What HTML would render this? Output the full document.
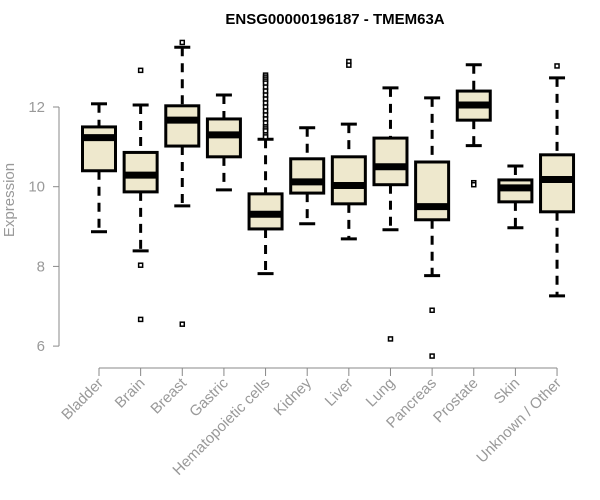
<!DOCTYPE html>
<html><head><meta charset="utf-8"><style>
body{margin:0;background:#fff;}
svg{display:block;font-family:"Liberation Sans",Arial,sans-serif;}
</style></head><body>
<svg id="chart" width="600" height="500">
<text x="335" y="24" text-anchor="middle" font-size="15" font-weight="bold">ENSG00000196187 - TMEM63A</text>
<text transform="translate(14,200) rotate(-90)" text-anchor="middle" font-size="15" fill="#999">Expression</text>
<g id="yaxis"></g>
<g id="xaxis"></g>
<g id="boxes"></g>
</svg>
<script>
const categories=["Bladder","Brain","Breast","Gastric","Hematopoietic cells","Kidney","Liver","Lung","Pancreas","Prostate","Skin","Unknown / Other"];
const whiskerLow=[8.87,8.39,9.52,9.92,7.82,9.07,8.69,8.92,7.77,11.03,8.97,7.26];
const q1=[10.40,9.87,11.02,10.75,8.94,9.84,9.57,10.05,9.17,11.67,9.62,9.37];
const medians=[11.23,10.29,11.67,11.30,9.31,10.12,10.03,10.50,9.50,12.05,9.97,10.18];
const q3=[11.50,10.86,12.03,11.70,9.82,10.70,10.75,11.22,10.62,12.40,10.17,10.80];
const whiskerHigh=[12.08,12.05,13.50,12.30,11.19,11.48,11.57,12.48,12.23,13.06,10.52,12.73];
const outliers=[[],[12.92,8.03,6.67],[13.62,6.55],[],[12.8,12.75,12.7,12.65,12.6,12.5,12.4,12.3,12.2,12.1,12.0,11.9,11.8,11.7,11.6,11.5,11.45,11.4,11.3,11.25],[],[13.14,13.05],[6.18],[6.90,5.75],[10.10,10.05],[],[13.03]];
const yTicks=[6,8,10,12];

const NS="http://www.w3.org/2000/svg";
const y=v=>107+(12-v)*39.85;
const x=i=>99+i*41.64;
function mk(parent,tag,attrs){const e=document.createElementNS(NS,tag);for(const k in attrs)e.setAttribute(k,attrs[k]);parent.appendChild(e);return e;}
const ya=document.getElementById('yaxis'),xa=document.getElementById('xaxis'),bx=document.getElementById('boxes');
let l=mk(ya,'line',{x1:59,x2:59,y1:y(12),y2:y(6),stroke:'#888'});
yTicks.forEach(t=>{
 let tk=mk(ya,'line',{x1:53,x2:59,y1:y(t),y2:y(t),stroke:'#888'});
 
 
 let tx=mk(ya,'text',{x:45,y:y(t)+5,'text-anchor':'end','font-size':15,fill:'#999'});
 tx.textContent=t;
 
 
});
mk(xa,'line',{x1:x(0),x2:x(categories.length-1),y1:368,y2:368,stroke:'#888'});
categories.forEach((c,i)=>{
 const cx=x(i);
 let tk=mk(xa,'line',{x1:cx,x2:cx,y1:368,y2:376,stroke:'#888'});
 
 
 let tx=mk(xa,'text',{transform:`translate(${cx+5},384) rotate(-45)`,'text-anchor':'end','font-size':15,fill:'#999'});
 tx.textContent=c;
 
 
 const g=mk(bx,'g',{});
 
 
 const hw=16.5;
 mk(g,'line',{x1:cx,x2:cx,y1:y(whiskerHigh[i]),y2:y(q3[i]),stroke:'#000','stroke-width':3,'stroke-dasharray':'9,7'});
 mk(g,'line',{x1:cx,x2:cx,y1:y(q1[i]),y2:y(whiskerLow[i]),stroke:'#000','stroke-width':3,'stroke-dasharray':'9,7'});
 mk(g,'line',{x1:cx-8,x2:cx+8,y1:y(whiskerHigh[i]),y2:y(whiskerHigh[i]),stroke:'#000','stroke-width':3});
 mk(g,'line',{x1:cx-8,x2:cx+8,y1:y(whiskerLow[i]),y2:y(whiskerLow[i]),stroke:'#000','stroke-width':3});
 mk(g,'rect',{x:cx-hw,y:y(q3[i]),width:hw*2,height:y(q1[i])-y(q3[i]),fill:'#EEE8CD',stroke:'#000','stroke-width':3});
 mk(g,'line',{x1:cx-hw,x2:cx+hw,y1:y(medians[i]),y2:y(medians[i]),stroke:'#000','stroke-width':7});
 outliers[i].forEach(o=>{
  let p=mk(g,'rect',{x:cx-2,y:y(o)-2,width:4,height:4,fill:'#fff',stroke:'#000','stroke-width':1.5});
  
  
 });
});
</script>
</body></html>
